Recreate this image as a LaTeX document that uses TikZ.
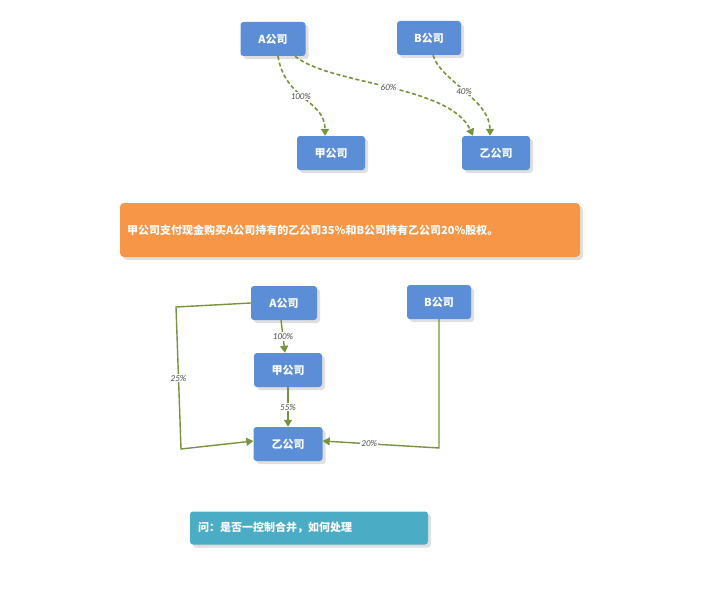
\documentclass[tikz,border=0pt]{standalone}
\usepackage{fontspec}
\setmainfont{Carlito}
\newfontfamily\cjk{Noto Sans CJK SC}
\usetikzlibrary{shadows,arrows.meta}
\definecolor{boxblue}{HTML}{5B8ED6}
\definecolor{olive}{HTML}{77933C}
\definecolor{orng}{HTML}{F79646}
\definecolor{teal2}{HTML}{4BACC6}
\begin{document}
\begin{tikzpicture}[x=1pt,y=-1pt,
 box/.style={fill=boxblue,rounded corners=3pt,text=white,font=\cjk\bfseries\fontsize{11}{13}\selectfont,minimum height=34pt,drop shadow={shadow xshift=3pt,shadow yshift=-3pt,opacity=0.25}},
 con/.style={draw=olive,line width=1.6pt,-{Triangle[length=7pt,width=8pt]}},
 dsh/.style={con,dash pattern=on 4pt off 2.5pt},
 lab/.style={font=\itshape\fontsize{9}{10}\selectfont,text=black!70,fill=white,inner sep=1pt}]
\useasboundingbox (0,0) rectangle (714,594);
% top
\node[box,minimum width=65pt] (A1) at (273,39) {A公司};
\node[box,minimum width=64pt] (B1) at (429,38) {B公司};
\node[box,minimum width=68pt] (J1) at (331,153) {甲公司};
\node[box,minimum width=68pt] (Y1) at (496,153) {乙公司};
\draw[dsh] ([xshift=5pt]A1.south) .. controls (285,100) and (325,100) .. ([xshift=-6pt]J1.north) node[lab,pos=0.45] {100\%};
\draw[dsh] ([xshift=22pt]A1.south) .. controls (330,85) and (450,85) .. ([xshift=-23pt]Y1.north) node[lab,pos=0.5] {60\%};
\draw[dsh] ([xshift=4pt]B1.south) .. controls (440,80) and (490,100) .. ([xshift=-6pt]Y1.north) node[lab,pos=0.5] {40\%};
% orange
\node[fill=orng,rounded corners=4pt,text=white,font=\cjk\bfseries\fontsize{11}{17}\selectfont,minimum width=460pt,minimum height=54pt,text width=446pt,align=left,drop shadow={shadow xshift=3pt,shadow yshift=-3pt,opacity=0.25}] (T) at (350,230) {甲公司支付现金购买A公司持有的乙公司35\%和B公司持有乙公司20\%股权。};
% bottom
\node[box,minimum width=66pt] (A2) at (284,303) {A公司};
\node[box,minimum width=64pt] (B2) at (439,302) {B公司};
\node[box,minimum width=68pt] (J2) at (288,370) {甲公司};
\node[box,minimum width=69pt] (Y2) at (288,444) {乙公司};
\draw[con,line width=1.4pt] ([xshift=-3pt]A2.south) -- ([xshift=-3pt]J2.north) node[lab,midway] {100\%};
\draw[con,line width=1.4pt] (J2.south) -- (Y2.north) node[lab,midway] {55\%};
\draw[con,line width=1.4pt] (A2.west) -- (176,307) -- (181,449) node[lab,pos=0.5] (L25) {25\%} -- ([yshift=3pt]Y2.west);
\draw[con,line width=1.4pt] (B2.south) -- (439,448) -- ([yshift=3pt]Y2.east) node[lab,pos=0.6] {20\%};
\node[fill=teal2,rounded corners=3pt,text=white,font=\cjk\bfseries\fontsize{11}{13}\selectfont,minimum width=238pt,minimum height=33pt,text width=222pt,align=left,drop shadow={shadow xshift=3pt,shadow yshift=-3pt,opacity=0.25}] (Q) at (309,528) {问：是否一控制合并，如何处理};
\end{tikzpicture}
\end{document}
